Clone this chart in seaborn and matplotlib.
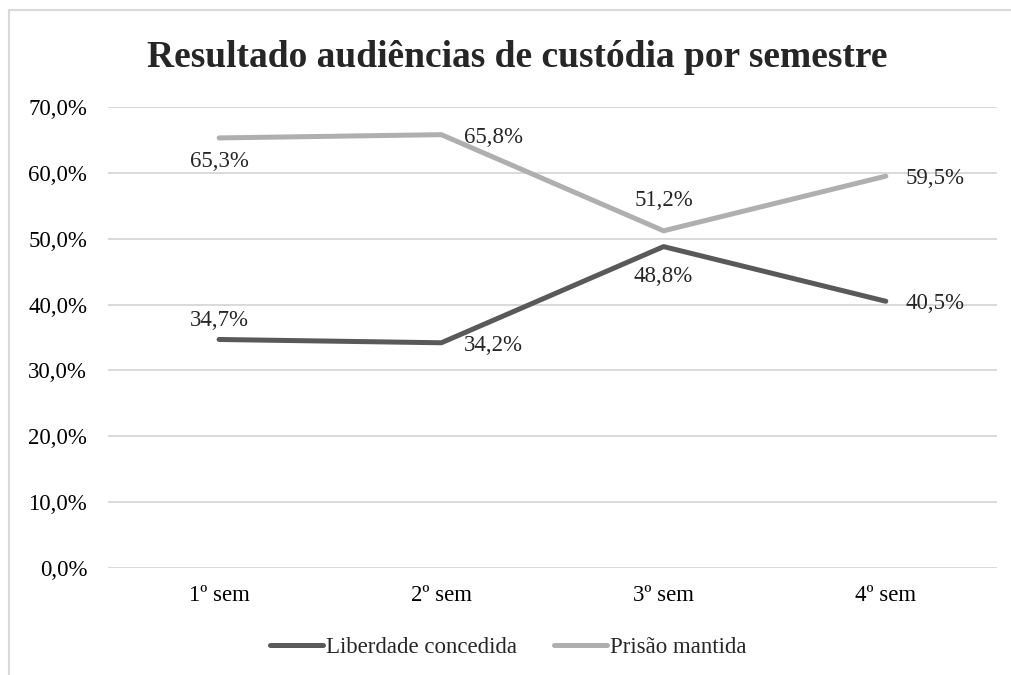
import pandas as pd
import seaborn as sns
import matplotlib.pyplot as plt
from matplotlib.lines import Line2D

# Data
semestres = ["1º sem", "2º sem", "3º sem", "4º sem"]
liberdade = [34.7, 34.2, 48.8, 40.5]
prisao = [65.3, 65.8, 51.2, 59.5]
series_names = ["Liberdade concedida", "Prisão mantida"]

df = pd.DataFrame({
    "Semestre": semestres * 2,
    "Valor": liberdade + prisao,
    "Serie": [series_names[0]] * 4 + [series_names[1]] * 4,
})

sns.set_style("white")
plt.rcParams["font.family"] = ["Liberation Serif", "DejaVu Serif"]

fig = plt.figure(figsize=(10.11, 6.75), dpi=100)
ax = fig.add_axes([0.1068, 0.1585, 0.8793, 0.683])

palette = {series_names[0]: "#595959", series_names[1]: "#afafaf"}
sns.lineplot(data=df, x="Semestre", y="Valor", hue="Serie", palette=palette,
             linewidth=3.6, sort=False, ax=ax, solid_capstyle="round")

ax.set_ylim(0, 70)
ax.set_xlim(-0.5, 3.5)
ax.set_yticks(range(0, 71, 10))
ax.set_yticklabels([f"{v:.1f}%".replace(".", ",") for v in range(0, 71, 10)])
ax.yaxis.grid(True, color="#d9d9d9", linewidth=1.4)
ax.set_axisbelow(True)
for s in ax.spines.values():
    s.set_visible(False)
ax.tick_params(axis="both", length=0, labelsize=16.5, colors="#000000")
ax.tick_params(axis="y", pad=15)
ax.tick_params(axis="x", pad=12)
ax.set_xlabel("")
ax.set_ylabel("")

# data labels (offsets in pixels)
lib_offsets = [(0, 19), (23, -3), (0, -30), (20, -2)]
pri_offsets = [(0, -24), (23, -3), (0, 30), (20, -2)]
for vals, offsets in [(liberdade, lib_offsets), (prisao, pri_offsets)]:
    for i, (v, off) in enumerate(zip(vals, offsets)):
        ax.annotate(f"{v:.1f}%".replace(".", ","), (i, v), xytext=off,
                    textcoords="offset pixels",
                    ha="left" if off[0] else "center",
                    va="center", fontsize=16.5)

fig.text(0.512, 0.915, "Resultado audiências de custódia por semestre",
         ha="center", va="center", fontsize=27, fontweight="bold")

sns.move_legend(ax, "center", bbox_to_anchor=(0.503, 0.041),
                bbox_transform=fig.transFigure, ncol=2, frameon=False,
                title=None, fontsize=16.5, handlelength=2.3,
                handletextpad=0.15, columnspacing=1.6)
for h in ax.get_legend().get_lines():
    h.set_solid_capstyle("round")

# chart border (only left and top edges are visible in the crop)
bx, by = 9 / 1011, 1 - 10 / 675
fig.add_artist(Line2D([bx, bx], [0, by], transform=fig.transFigure,
                      color="#d9d9d9", linewidth=1.5))
fig.add_artist(Line2D([bx, 1], [by, by], transform=fig.transFigure,
                      color="#d9d9d9", linewidth=1.5))

fig.savefig("out.png", dpi=100)
